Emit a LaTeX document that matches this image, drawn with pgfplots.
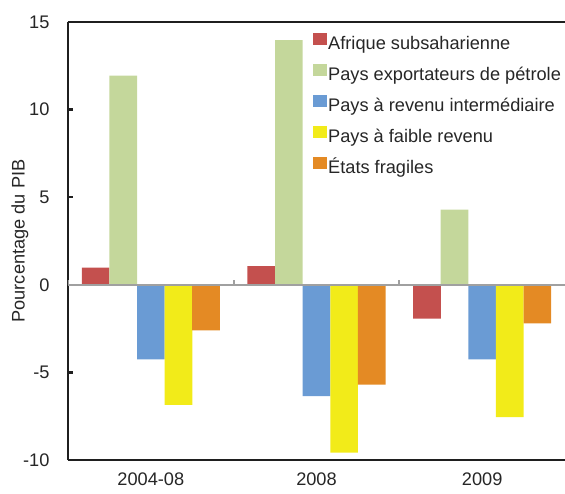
\documentclass[border=0pt]{standalone}
\usepackage{pgfplots}
\pgfplotsset{compat=1.18}
\usepackage{fontspec}
\setmainfont{Liberation Sans}
\definecolor{cred}{HTML}{C4504E}
\definecolor{cgreen}{HTML}{C4D79B}
\definecolor{cblue}{HTML}{6A9BD4}
\definecolor{cyellow}{HTML}{F2EB19}
\definecolor{corange}{HTML}{E48A24}
\definecolor{axgray}{HTML}{A0A0A0}
\newcommand{\ff}{\fontsize{18.2}{21}\selectfont}
\begin{document}
\begin{tikzpicture}
\begin{axis}[
  at={(68pt,33pt)}, anchor=south west,
  scale only axis, width=497pt, height=438pt,
  xmin=-0.5, xmax=2.5, ymin=-10, ymax=15,
  ybar=0pt, bar width=0.1667,
  axis x line*=box, axis y line*=left,
  axis line style={line width=2.6pt, color=black!88, -},
  xtick={0,1,2}, xticklabels={2004-08,2008,2009},
  xtick style={draw=none},
  ytick={-10,-5,0,5,10,15},
  ytick style={black!88, line width=2.5pt},
  major tick length=5pt, tick align=inside,
  /pgf/number format/assume math mode=true,
  tick label style={font=\ff, text=black!85},
  xticklabel style={yshift=-9pt},
  yticklabel style={xshift=-15pt},
  ylabel={Pourcentage du PIB},
  ylabel style={font=\ff, text=black!85, at={(axis description cs:-0.0966,0.5)}, anchor=center},
  legend style={at={(axis description cs:0.493,0.9755)}, anchor=north west,
    draw=none, fill=none, inner sep=0pt, font=\ff, text=black!85,
    row sep=11pt, column sep=1pt,
    nodes={inner sep=0pt, text height=12.5pt, text depth=3.5pt}},
  legend cell align=left,
  legend image code/.code={\fill[#1] (0pt,0pt) rectangle (14pt,12pt);},
]
\addplot[fill=cred, draw=none, bar shift=-0.3333] coordinates {(0,0.98) (1,1.07) (2,-1.93)};
\addplot[fill=cgreen, draw=none, bar shift=-0.1667] coordinates {(0,11.94) (1,13.97) (2,4.29)};
\addplot[fill=cblue, draw=none, bar shift=0] coordinates {(0,-4.25) (1,-6.36) (2,-4.25)};
\addplot[fill=cyellow, draw=none, bar shift=0.1667] coordinates {(0,-6.86) (1,-9.58) (2,-7.55)};
\addplot[fill=corange, draw=none, bar shift=0.3333] coordinates {(0,-2.6) (1,-5.7) (2,-2.2)};
\legend{Afrique subsaharienne, Pays exportateurs de pétrole, Pays à revenu intermédiaire, Pays à faible revenu, États fragiles}
\draw[axgray, line width=2.5pt] (axis cs:-0.5,0) -- (axis cs:2.5,0);
\draw[axgray, line width=2pt] (axis cs:-0.5,0) -- ([yshift=5pt]axis cs:-0.5,0);
\draw[axgray, line width=2pt] (axis cs:0.5,0) -- ([yshift=5pt]axis cs:0.5,0);
\draw[axgray, line width=2pt] (axis cs:1.5,0) -- ([yshift=5pt]axis cs:1.5,0);
\end{axis}
\pgfresetboundingbox
\path (0,0) rectangle (565pt,493pt);
\end{tikzpicture}
\end{document}
